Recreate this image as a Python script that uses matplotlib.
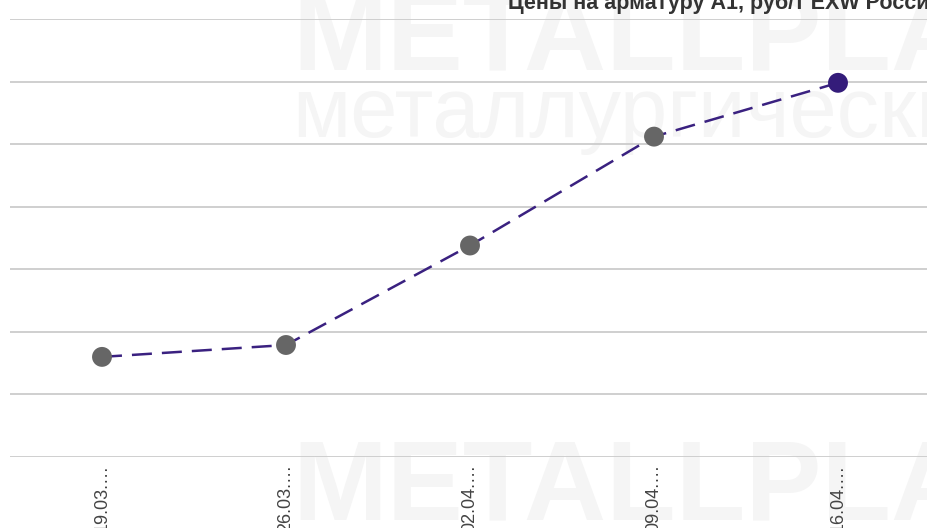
import matplotlib.pyplot as plt

# данные (значения по оси Y оценены по картинке, шкала на исходнике обрезана)
dates = ["19.03.…", "26.03.…", "02.04.…", "09.04.…", "16.04.…"]
prices = [45600, 45790, 47380, 49120, 49980]
y_ticks = [44000, 45000, 46000, 47000, 48000, 49000, 50000, 51000]
title = "Цены на арматуру А1, руб/т EXW Россия"

plt.rcParams['font.family'] = ['Liberation Sans', 'DejaVu Sans']

W, H = 928, 528
fig = plt.figure(figsize=(W / 100, H / 100), dpi=100)
fig.patch.set_facecolor('white')

# водяной знак
wm = '#f5f5f5'
narrow = ['Liberation Sans Narrow', 'Liberation Sans']
fig.text(292 / W, 1 - 70 / H, "METALLPLANT", color=wm, fontsize=82, fontweight='bold',
         family=narrow, ha='left', va='baseline', zorder=-1)
fig.text(292 / W, 1 - 137 / H, "металлургический", color=wm, fontsize=61,
         ha='left', va='baseline', zorder=-1)
fig.text(292 / W, 1 - 519 / H, "METALLPLANT", color=wm, fontsize=82, fontweight='bold',
         family=narrow, ha='left', va='baseline', zorder=-1)

ax = fig.add_axes([10 / W, 1 - 457 / H, 920 / W, 438 / H])
ax.patch.set_alpha(0)

x = list(range(len(dates)))
ax.plot(x, prices, color='#3a2180', lw=1.8, dashes=(8, 4), zorder=2)
colors = ['#666666'] * (len(dates) - 1) + ['#341c7a']
ax.scatter(x, prices, s=205, c=colors, zorder=3, linewidths=0)

ax.set_xlim(-0.5, len(dates) - 0.5)
ax.set_ylim(y_ticks[0], y_ticks[-1])
ax.set_yticks(y_ticks)
ax.set_yticklabels([])
ax.set_xticks(x)
ax.set_xticklabels(dates, rotation=90, fontsize=13, color='#444444', va='top')
ax.tick_params(axis='both', length=0)
ax.tick_params(axis='x', pad=5)
ax.grid(axis='y', color='#cccccc', lw=1.3)
ax.set_axisbelow(True)
for s in ax.spines.values():
    s.set_visible(False)

fig.text(508 / W, 1 - 9 / H, title, fontsize=15.5, fontweight='bold', color='#333333',
         ha='left', va='baseline')

fig.savefig('out.png', dpi=100)
